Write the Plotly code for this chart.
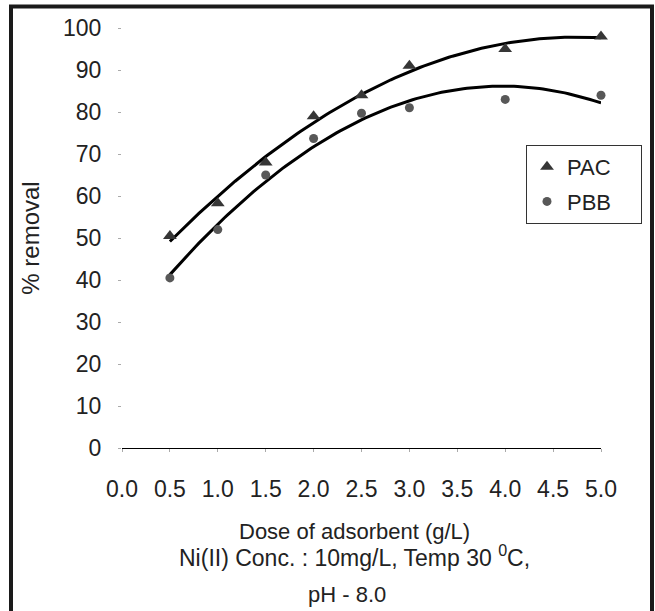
import numpy as np
import plotly.graph_objects as go

# ---- data ----
dose = [0.5, 1.0, 1.5, 2.0, 2.5, 3.0, 4.0, 5.0]
pac_removal = [50.5, 58.3, 68.0, 79.0, 84.0, 91.0, 95.0, 98.0]
pbb_removal = [40.5, 52.0, 65.0, 73.7, 79.7, 81.0, 83.0, 84.0]
x_ticks = [0.0, 0.5, 1.0, 1.5, 2.0, 2.5, 3.0, 3.5, 4.0, 4.5, 5.0]
y_ticks = [0, 10, 20, 30, 40, 50, 60, 70, 80, 90, 100]

FONT = "Liberation Sans, Arial, sans-serif"
TXT = "#222222"
PAD = "\u00a0" * 4

# polynomial (order 2) trendlines, as in a spreadsheet chart
xs = np.linspace(min(dose), max(dose), 120)
pac_fit = np.polyval(np.polyfit(dose, pac_removal, 2), xs)
pbb_fit = np.polyval(np.polyfit(dose, pbb_removal, 2), xs)

fig = go.Figure()
fig.add_trace(go.Scatter(x=xs, y=pac_fit, mode="lines", line=dict(color="black", width=3),
                         showlegend=False, hoverinfo="skip"))
fig.add_trace(go.Scatter(x=xs, y=pbb_fit, mode="lines", line=dict(color="black", width=3),
                         showlegend=False, hoverinfo="skip"))
fig.add_trace(go.Scatter(x=dose, y=pac_removal, mode="markers", name="PAC" + PAD, legendgroup="a",
                         marker=dict(symbol="triangle-up", size=12, color="#363636"),
                         cliponaxis=False))
fig.add_trace(go.Scatter(x=dose, y=pbb_removal, mode="markers", name="PBB" + PAD, legendgroup="b",
                         marker=dict(symbol="circle", size=9, color="#585858"),
                         cliponaxis=False))

fig.update_layout(
    width=655, height=611,
    margin=dict(l=122, r=54, t=28, b=163),
    paper_bgcolor="white", plot_bgcolor="white",
    font=dict(family=FONT, size=22, color=TXT),
    showlegend=True,
    legend=dict(x=(526 - 122) / 479, y=(448 - 145) / 420, xanchor="left", yanchor="top",
                bgcolor="white", bordercolor="#333333", borderwidth=1,
                font=dict(family=FONT, size=22, color=TXT),
                tracegroupgap=3, itemsizing="trace"),
    xaxis=dict(range=[0, 5], tickmode="array", tickvals=x_ticks,
               ticktext=[f"{v:.1f}" for v in x_ticks],
               showgrid=False, zeroline=False, showline=True, linecolor="black", linewidth=1,
               ticks="outside", ticklen=3, tickcolor="#aaaaaa", ticklabelstandoff=17,
               tickfont=dict(family=FONT, size=23, color=TXT)),
    yaxis=dict(range=[0, 100], tickmode="array", tickvals=y_ticks,
               showgrid=False, zeroline=False, showline=False,
               ticks="outside", ticklen=3, tickcolor="#aaaaaa", ticklabelstandoff=12,
               tickfont=dict(family=FONT, size=23, color=TXT),
               title=dict(text="% removal", font=dict(family=FONT, size=24, color=TXT), standoff=16)),
)

fig.add_annotation(text="Dose of adsorbent (g/L)", xref="paper", yref="paper",
                   x=0.485, y=(448 - 531) / 420, showarrow=False, xanchor="center", yanchor="middle",
                   font=dict(family=FONT, size=22, color=TXT))
fig.add_annotation(text="Ni(II) Conc. : 10mg/L, Temp 30 <sup>0</sup>C,", xref="paper", yref="paper",
                   x=0.485, y=(448 - 556) / 420, showarrow=False, xanchor="center", yanchor="middle",
                   font=dict(family=FONT, size=23, color=TXT))
fig.add_annotation(text="pH - 8.0", xref="paper", yref="paper",
                   x=0.47, y=(448 - 594) / 420, showarrow=False, xanchor="center", yanchor="middle",
                   font=dict(family=FONT, size=22, color=TXT))

# thick frame around the figure (top, left, right)
fig.add_shape(type="rect", xref="paper", yref="paper",
              x0=(11 - 122) / 479, x1=(652 - 122) / 479,
              y0=(448 - 640) / 420, y1=(448 - 6.5) / 420,
              line=dict(color="#1a1a1a", width=4), fillcolor="rgba(0,0,0,0)", layer="below")

fig.write_html("out.html", config={"displayModeBar": False},
               post_script="document.body.style.margin='0';document.body.style.overflow='hidden';")
